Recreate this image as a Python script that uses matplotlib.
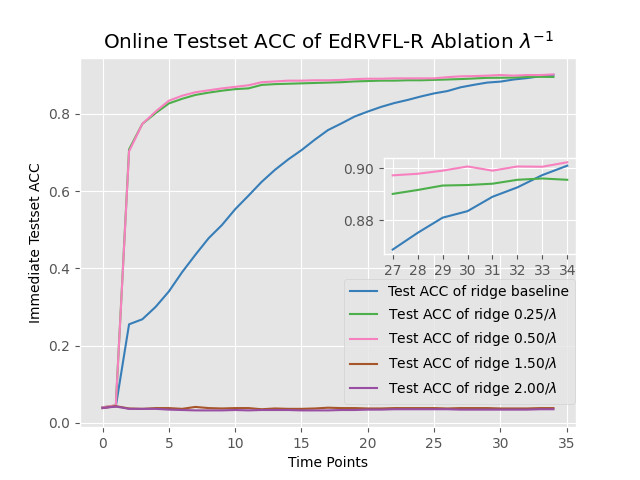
import numpy as np
import matplotlib
matplotlib.use("Agg")
import matplotlib.pyplot as plt

plt.style.use("ggplot")

t = np.arange(35)

acc_base = [0.040, 0.042, 0.255, 0.268, 0.300, 0.340, 0.390, 0.435, 0.478, 0.512,
            0.553, 0.588, 0.624, 0.655, 0.682, 0.706, 0.733, 0.758, 0.775, 0.793,
            0.806, 0.818, 0.828, 0.836, 0.845, 0.853, 0.859, 0.8688, 0.8752, 0.881,
            0.8835, 0.889, 0.8926, 0.8973, 0.9009]
acc_025 = [0.040, 0.045, 0.708, 0.774, 0.802, 0.827, 0.839, 0.849, 0.855, 0.860,
           0.864, 0.866, 0.875, 0.877, 0.878, 0.879, 0.880, 0.881, 0.882, 0.884,
           0.885, 0.886, 0.886, 0.887, 0.887, 0.888, 0.889, 0.8901, 0.8916, 0.8933,
           0.8935, 0.894, 0.8955, 0.8960, 0.8955]
acc_050 = [0.040, 0.045, 0.703, 0.774, 0.806, 0.834, 0.847, 0.856, 0.861, 0.866,
           0.870, 0.874, 0.882, 0.884, 0.886, 0.886, 0.887, 0.887, 0.888, 0.890,
           0.891, 0.891, 0.892, 0.892, 0.892, 0.892, 0.895, 0.8972, 0.8978, 0.899,
           0.9006, 0.899, 0.9006, 0.9005, 0.9022]
acc_150 = [0.038, 0.043, 0.037, 0.036, 0.038, 0.038, 0.036, 0.041, 0.038, 0.037,
           0.038, 0.038, 0.035, 0.037, 0.036, 0.036, 0.037, 0.039, 0.038, 0.038,
           0.037, 0.037, 0.038, 0.038, 0.038, 0.038, 0.037, 0.038, 0.038, 0.038,
           0.037, 0.037, 0.037, 0.038, 0.038]
acc_200 = [0.038, 0.042, 0.036, 0.036, 0.036, 0.034, 0.033, 0.032, 0.032, 0.032,
           0.033, 0.032, 0.033, 0.033, 0.033, 0.032, 0.032, 0.032, 0.033, 0.033,
           0.034, 0.034, 0.035, 0.035, 0.035, 0.035, 0.035, 0.034, 0.034, 0.034,
           0.034, 0.034, 0.034, 0.035, 0.035]

labels = ["Test ACC of ridge baseline", r"Test ACC of ridge 0.25/$\lambda$",
          r"Test ACC of ridge 0.50/$\lambda$", r"Test ACC of ridge 1.50/$\lambda$",
          r"Test ACC of ridge 2.00/$\lambda$"]
colors = ["#377eb8", "#4daf4a", "#f781bf", "#a65628", "#984ea3"]
series = [acc_base, acc_025, acc_050, acc_150, acc_200]

fig = plt.figure(figsize=(6.4, 4.8), dpi=100)
ax = fig.add_subplot(111)
for y, c, l in zip(series, colors, labels):
    ax.plot(t, y, c=c, label=l, lw=1.5)
ax.set_title(r"Online Testset ACC of EdRVFL-R Ablation $\lambda^{-1}$", fontsize=14.4, color="black")
ax.set_xlabel("Time Points", fontsize=10, color="black")
ax.set_ylabel("Immediate Testset ACC", fontsize=10, color="black")
ax.tick_params(labelsize=10)
ax.legend(loc="lower right", bbox_to_anchor=(0.998, 0.063), borderaxespad=0,
          fontsize=10)

# zoomed inset on the last time points
axins = fig.add_axes([0.6, 0.471, 0.3, 0.2])
for y, c in zip(series[:3], colors[:3]):
    axins.plot(t[27:], y[27:], c=c, lw=1.5)
axins.set_xticks(t[27:])
axins.set_yticks([0.88, 0.90])
axins.tick_params(labelsize=10)

fig.savefig("out.png", dpi=100)
